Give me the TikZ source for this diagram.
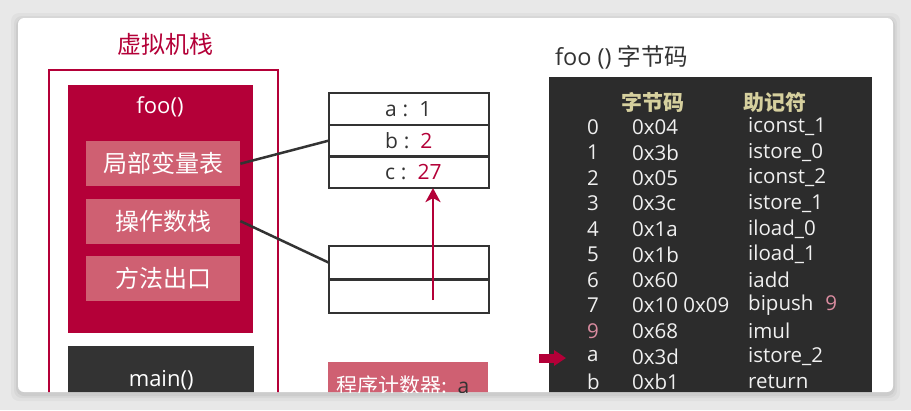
\documentclass[tikz,border=0pt]{standalone}
\usepackage{fontspec}
\setmainfont{Open Sans}
\newfontfamily\cjk{Noto Sans CJK SC}
\usetikzlibrary{arrows.meta,positioning}

\definecolor{vmRed}{RGB}{180,0,56}
\definecolor{slotPink}{RGB}{207,96,114}
\definecolor{boxDark}{RGB}{51,51,51}
\definecolor{codeBg}{RGB}{44,44,44}
\definecolor{inkGray}{RGB}{51,51,51}
\definecolor{headOlive}{RGB}{214,208,158}
\definecolor{numPink}{RGB}{218,140,160}
\definecolor{pageGray}{RGB}{232,232,232}

\begin{document}
\begin{tikzpicture}[
    x=1pt, y=-1pt,
    font=\fontsize{20}{24}\selectfont,
    node distance=12pt,
    titleText/.style={font=\cjk\fontsize{24}{28}\selectfont, inner sep=0pt},
    frameBox/.style={
        rectangle, draw=vmRed, line width=2pt, anchor=north west, inner sep=0pt
    },
    methodBox/.style={
        rectangle, anchor=north west, inner sep=0pt, text=white,
        font=\fontsize{22}{26}\selectfont
    },
    slotBox/.style={
        rectangle, fill=slotPink, minimum width=154pt, minimum height=45pt,
        inner sep=0pt, text=white, font=\cjk\fontsize{24}{28}\selectfont
    },
    cellBox/.style={
        rectangle, draw=inkGray, line width=2.2pt, minimum width=160pt,
        inner sep=0pt, outer sep=0pt, text=inkGray, text width=68pt, align=left,
        font=\fontsize{21}{25}\selectfont
    },
    codeText/.style={
        anchor=west, inner sep=0pt, text=white!94!black,
        font=\fontsize{20.5}{24}\selectfont
    },
    headText/.style={
        font=\cjk\bfseries\fontsize{21}{25}\selectfont, text=headOlive, inner sep=0pt
    },
    linkLine/.style={draw=inkGray, line width=2.5pt},
    pushArrow/.style={
        -{Stealth[length=14pt, width=15pt, inset=4pt]}, draw=vmRed, line width=2.5pt
    },
    pcPointer/.style={
        -{Triangle[length=12pt, width=15pt]}, draw=vmRed, line width=9pt
    }
]
\useasboundingbox (0,0) rectangle (911,410);

% Page and card
\fill[pageGray] (0,0) rectangle (911,410);
\foreach \s/\o in {7/0.03, 4/0.04, 2/0.05}
    \fill[black, opacity=\o, rounded corners=8pt] (18-\s,20-\s) rectangle (893+\s,394+\s);
\fill[white, rounded corners=6pt] (18,18) rectangle (893,392);

\begin{scope}
\clip[rounded corners=6pt] (18,18) rectangle (893,392);

% Virtual machine stack
\node[titleText, text=vmRed] (vmTitle) at (165,44) {虚拟机栈};
\node[frameBox, minimum width=229pt, minimum height=360pt] (vmFrame) at (48,69) {};
\node[methodBox, fill=vmRed, minimum width=185pt, minimum height=248pt] (fooFrame) at (68,85) {};
\node[text=white, font=\fontsize{22}{26}\selectfont, inner sep=0pt] (fooName) at (160,107) {foo()};
\node[slotBox, anchor=north west] (localVars) at (86,141) {局部变量表};
\node[slotBox, below=of localVars] (opStack) {操作数栈};
\node[slotBox, below=of opStack] (retAddr) {方法出口};
\node[methodBox, fill=boxDark, minimum width=186pt, minimum height=68pt] (mainFrame) at (68,346) {main()};

% Local variable table
\node[cellBox, minimum height=31.7pt, anchor=north west] (varA) at (329,93)
    {\hspace*{10pt}a\hspace{6pt}:\hspace{11pt}1};
\node[cellBox, minimum height=31.7pt, below=0pt of varA] (varB)
    {\hspace*{10pt}b\hspace{6pt}:\hspace{11pt}\textcolor{vmRed}{2}};
\node[cellBox, minimum height=31.7pt, below=0pt of varB] (varC)
    {\hspace*{10pt}c\hspace{6pt}:\hspace{11pt}\textcolor{vmRed}{27}};

% Operand stack
\node[cellBox, minimum height=33.5pt, anchor=north west] (stackTop) at (329,246) {};
\node[cellBox, minimum height=33.5pt, below=0pt of stackTop] (stackLow) {};

% Program counter
\node[rectangle, fill=slotPink, minimum width=160pt, minimum height=46pt, anchor=north west,
    text width=144pt, align=left, inner sep=0pt, text=white,
    font=\fontsize{21}{25}\selectfont] (pcBox) at (328,362)
    {{\cjk 程序计数器:} \textcolor{inkGray}{a}};

% Bytecode listing
\node[anchor=west, inner sep=0pt, text=inkGray, font=\fontsize{23.5}{28}\selectfont]
    (codeTitle) at (555,57) {foo () {\cjk 字节码}};
\node[rectangle, fill=codeBg, anchor=north west, minimum width=323pt, minimum height=340pt,
    inner sep=0pt] (codeBox) at (549,77) {};
\node[headText] (headHex) at (653,102) {字节码};
\node[headText] (headOp) at (775,102) {助记符};
\foreach \idx/\hex/\mnem [count=\i from 0] in {
    0/0x04/iconst\_1, 1/0x3b/istore\_0, 2/0x05/iconst\_2, 3/0x3c/istore\_1,
    4/0x1a/iload\_0, 5/0x1b/iload\_1, 6/0x60/iadd,
    7/0x10 0x09/{bipush\hspace{12pt}\textcolor{numPink}{9}},
    {\textcolor{numPink}{9}}/0x68/imul, a/0x3d/istore\_2, b/0xb1/return}
{
    \node[codeText] (idx\i) at (587,{127+25.5*\i}) {\idx};
    \node[codeText] (hex\i) at (632,{127+25.5*\i}) {\hex};
    \node[codeText] (op\i) at (748,{127+25.5*\i}) {\mnem};
}

% Links
\draw[linkLine] (localVars.east) -- (varB.west);
\draw[linkLine] (opStack.east) -- (stackTop.west);
\coordinate (pushStart) at (433,300);
\draw[pushArrow] (pushStart) -- (pushStart |- varC.south);
\coordinate (pcTail) at (539,358);
\draw[pcPointer, shorten >=21pt] (pcTail) -- (pcTail -| idx9.west);
\end{scope}

\end{tikzpicture}
\end{document}
